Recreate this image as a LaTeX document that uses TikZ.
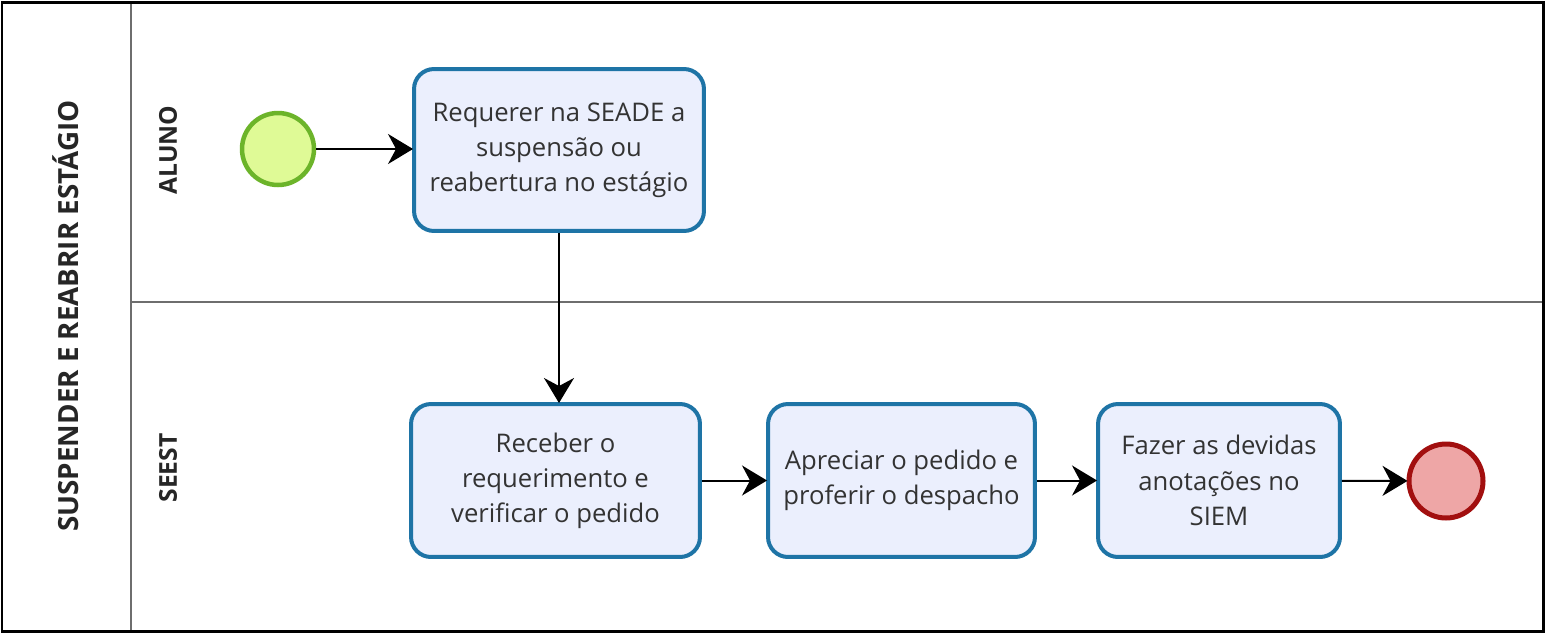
\documentclass[tikz,border=0pt]{standalone}
\usepackage{fontspec}
\setmainfont{Open Sans}
\usetikzlibrary{arrows.meta}
\definecolor{taskline}{HTML}{1E74A6}
\definecolor{taskfill}{HTML}{EBEFFD}
\definecolor{startline}{HTML}{6CB42A}
\definecolor{startfill}{HTML}{DFFA96}
\definecolor{endline}{HTML}{A20F0F}
\definecolor{endfill}{HTML}{EEA6A6}
\definecolor{laneline}{HTML}{6E6E6E}
\tikzset{
  task/.style={draw=taskline, fill=taskfill, line width=0.08cm, rounded corners=0.4cm,
    align=center, font=\fontsize{14.6}{20}\selectfont, text=black!80, inner sep=0pt},
  startevent/.style={circle, draw=startline, fill=startfill, line width=0.09cm,
    minimum size=1.44cm, inner sep=0pt},
  endevent/.style={circle, draw=endline, fill=endfill, line width=0.1cm,
    minimum size=1.48cm, inner sep=0pt},
  flow/.style={line width=0.04cm, shorten >=-0.02cm,
    -{Stealth[length=0.5cm, width=0.6cm, inset=0.16cm]}},
  lanelabel/.style={rotate=90, font=\fontsize{14}{17}\selectfont\bfseries, text=black!85}
}
\begin{document}
\begin{tikzpicture}[x=0.02cm, y=-0.02cm]
  \useasboundingbox (0,0) rectangle (1545,633);

  % Drawing pool and lanes
  \fill [white] (0,0) rectangle (1545,633);
  \draw [laneline, line width=0.04cm] (131,302) -- (1543,302);%
  \draw [laneline, line width=0.04cm] (131,2) -- (131,631);%
  \draw [black, line width=0.06cm] (2,2) rectangle (1543,631);%

  % Pool and lane labels
  \node [lanelabel, font=\fontsize{15.8}{18}\selectfont\bfseries] (pool) at (66,316)
    {SUSPENDER E REABRIR ESTÁGIO};%
  \node [lanelabel] (aluno) at (168,150) {ALUNO};%
  \node [lanelabel] (seest) at (168,468) {SEEST};%

  % Events
  \node [startevent] (start) at (278,149) {};%
  \node [endevent] (stop) at (1446,481) {};%

  % Tasks
  \node [task, minimum width=5.8cm, minimum height=3.24cm] (requerer) at (559,150)
    {Requerer na SEADE a\\suspensão ou\\reabertura no estágio};%
  \node [task, minimum width=5.78cm, minimum height=3.06cm] (receber) at (555.5,480.5)
    {Receber o\\requerimento e\\verificar o pedido};%
  \node [task, minimum width=5.34cm, minimum height=3.06cm] (apreciar) at (901.5,480.5)
    {Apreciar o pedido e\\proferir o despacho};%
  \node [task, minimum width=4.84cm, minimum height=3.06cm] (fazer) at (1219,480.5)
    {Fazer as devidas\\anotações no\\SIEM};%

  % Sequence flows
  \draw [flow] (start) -- (requerer.west |- start);%
  \draw [flow] (requerer.south) -- (requerer.south |- receber.north);%
  \draw [flow] (receber) -- (apreciar);%
  \draw [flow] (apreciar) -- (fazer);%
  \draw [flow] (fazer) -- (stop);%
\end{tikzpicture}
\end{document}
